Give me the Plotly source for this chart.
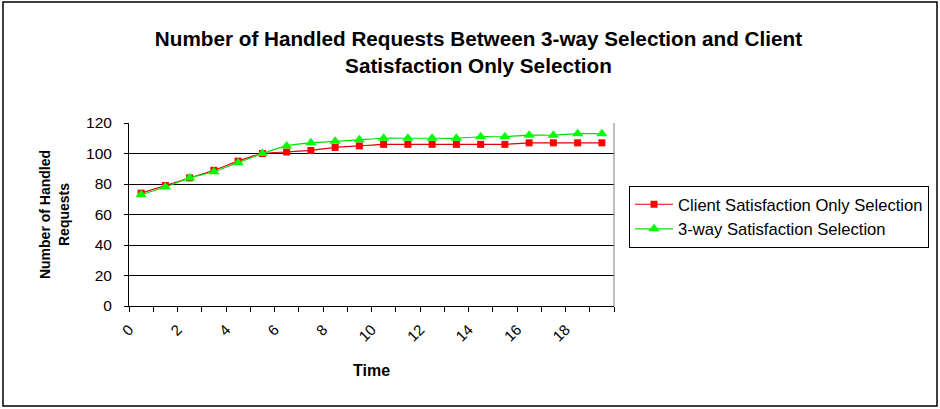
import plotly.graph_objects as go

# Handled requests per time step for the two selection strategies
time_steps = list(range(20))
client_only = [74, 79, 84, 89, 95, 100, 101, 102, 104, 105,
               106, 106, 106, 106, 106, 106, 107, 107, 107, 107]
three_way = [73, 78, 84, 88, 94, 100, 105, 107, 108, 109,
             110, 110, 110, 110, 111, 111, 112, 112, 113, 113]
x_tick_labels = [str(t) if t % 2 == 0 else "" for t in time_steps] + [""]
y_ticks = [0, 20, 40, 60, 80, 100, 120]

FONT = "Liberation Sans, Arial, sans-serif"

fig = go.Figure()
fig.add_trace(go.Scatter(
    x=time_steps, y=client_only, name="Client Satisfaction Only Selection",
    mode="lines+markers",
    line=dict(color="#E00000", width=1.2, shape="spline", smoothing=0.5),
    marker=dict(symbol="square", size=7, color="#FF0000"),
))
fig.add_trace(go.Scatter(
    x=time_steps, y=three_way, name="3-way Satisfaction Selection",
    mode="lines+markers",
    line=dict(color="#00E000", width=1.2, shape="spline", smoothing=0.5),
    marker=dict(symbol="triangle-up", size=10, color="#00FF00"),
))

# category boundaries carry the tick marks; even categories get a label
boundaries = [t - 0.5 for t in range(21)]

fig.update_layout(
    width=940, height=409,
    margin=dict(l=129, r=326, t=123, b=103, autoexpand=False),
    paper_bgcolor="white", plot_bgcolor="white",
    font=dict(family=FONT, size=13, color="black"),
    title=dict(
        text="Number of Handled Requests Between 3-way Selection and Client<br>Satisfaction Only Selection",
        x=0.509, xanchor="center", y=1 - 46 / 409, yanchor="middle", yref="container",
        font=dict(family=FONT, size=20.7, color="black", weight="bold"),
    ),
    showlegend=True,
    legend=dict(
        x=1.031, xanchor="left", y=0.656, yanchor="top",
        bordercolor="black", borderwidth=1, bgcolor="white",
        font=dict(family=FONT, size=16.6, color="black"),
        itemwidth=38,
    ),
    xaxis=dict(
        range=[-0.5, 19.5], tickmode="array", tickvals=boundaries, ticktext=x_tick_labels,
        tickangle=-45, ticks="outside", ticklen=5, tickcolor="black",
        showline=True, linecolor="black", linewidth=1, mirror=False,
        showgrid=False, zeroline=False, ticklabelstandoff=3,
        tickfont=dict(family=FONT, size=15),
        title=dict(text="<b>Time</b>", font=dict(family=FONT, size=16), standoff=21),
    ),
    yaxis=dict(
        range=[0, 120], tickmode="array", tickvals=y_ticks,
        ticks="outside", ticklen=4, tickcolor="black",
        showline=True, linecolor="black", linewidth=1,
        showgrid=True, gridcolor="black", gridwidth=1, zeroline=False,
        ticklabelstandoff=9,
        tickfont=dict(family=FONT, size=15.5),
        title=dict(text="<b>Number of Handled<br>Requests</b>", font=dict(family=FONT, size=14), standoff=13),
    ),
    shapes=[
        # right edge of the plot area
        dict(type="line", xref="paper", yref="paper", x0=1, x1=1, y0=0, y1=1,
             line=dict(color="#808080", width=1)),
        # frame around the whole chart
        dict(type="rect", xref="paper", yref="paper",
             x0=(3 - 129) / 485, x1=(937 - 129) / 485,
             y0=(306 - 406) / 183, y1=(306 - 2) / 183,
             line=dict(color="black", width=1.5)),
    ],
)

fig.write_html("out.html")
